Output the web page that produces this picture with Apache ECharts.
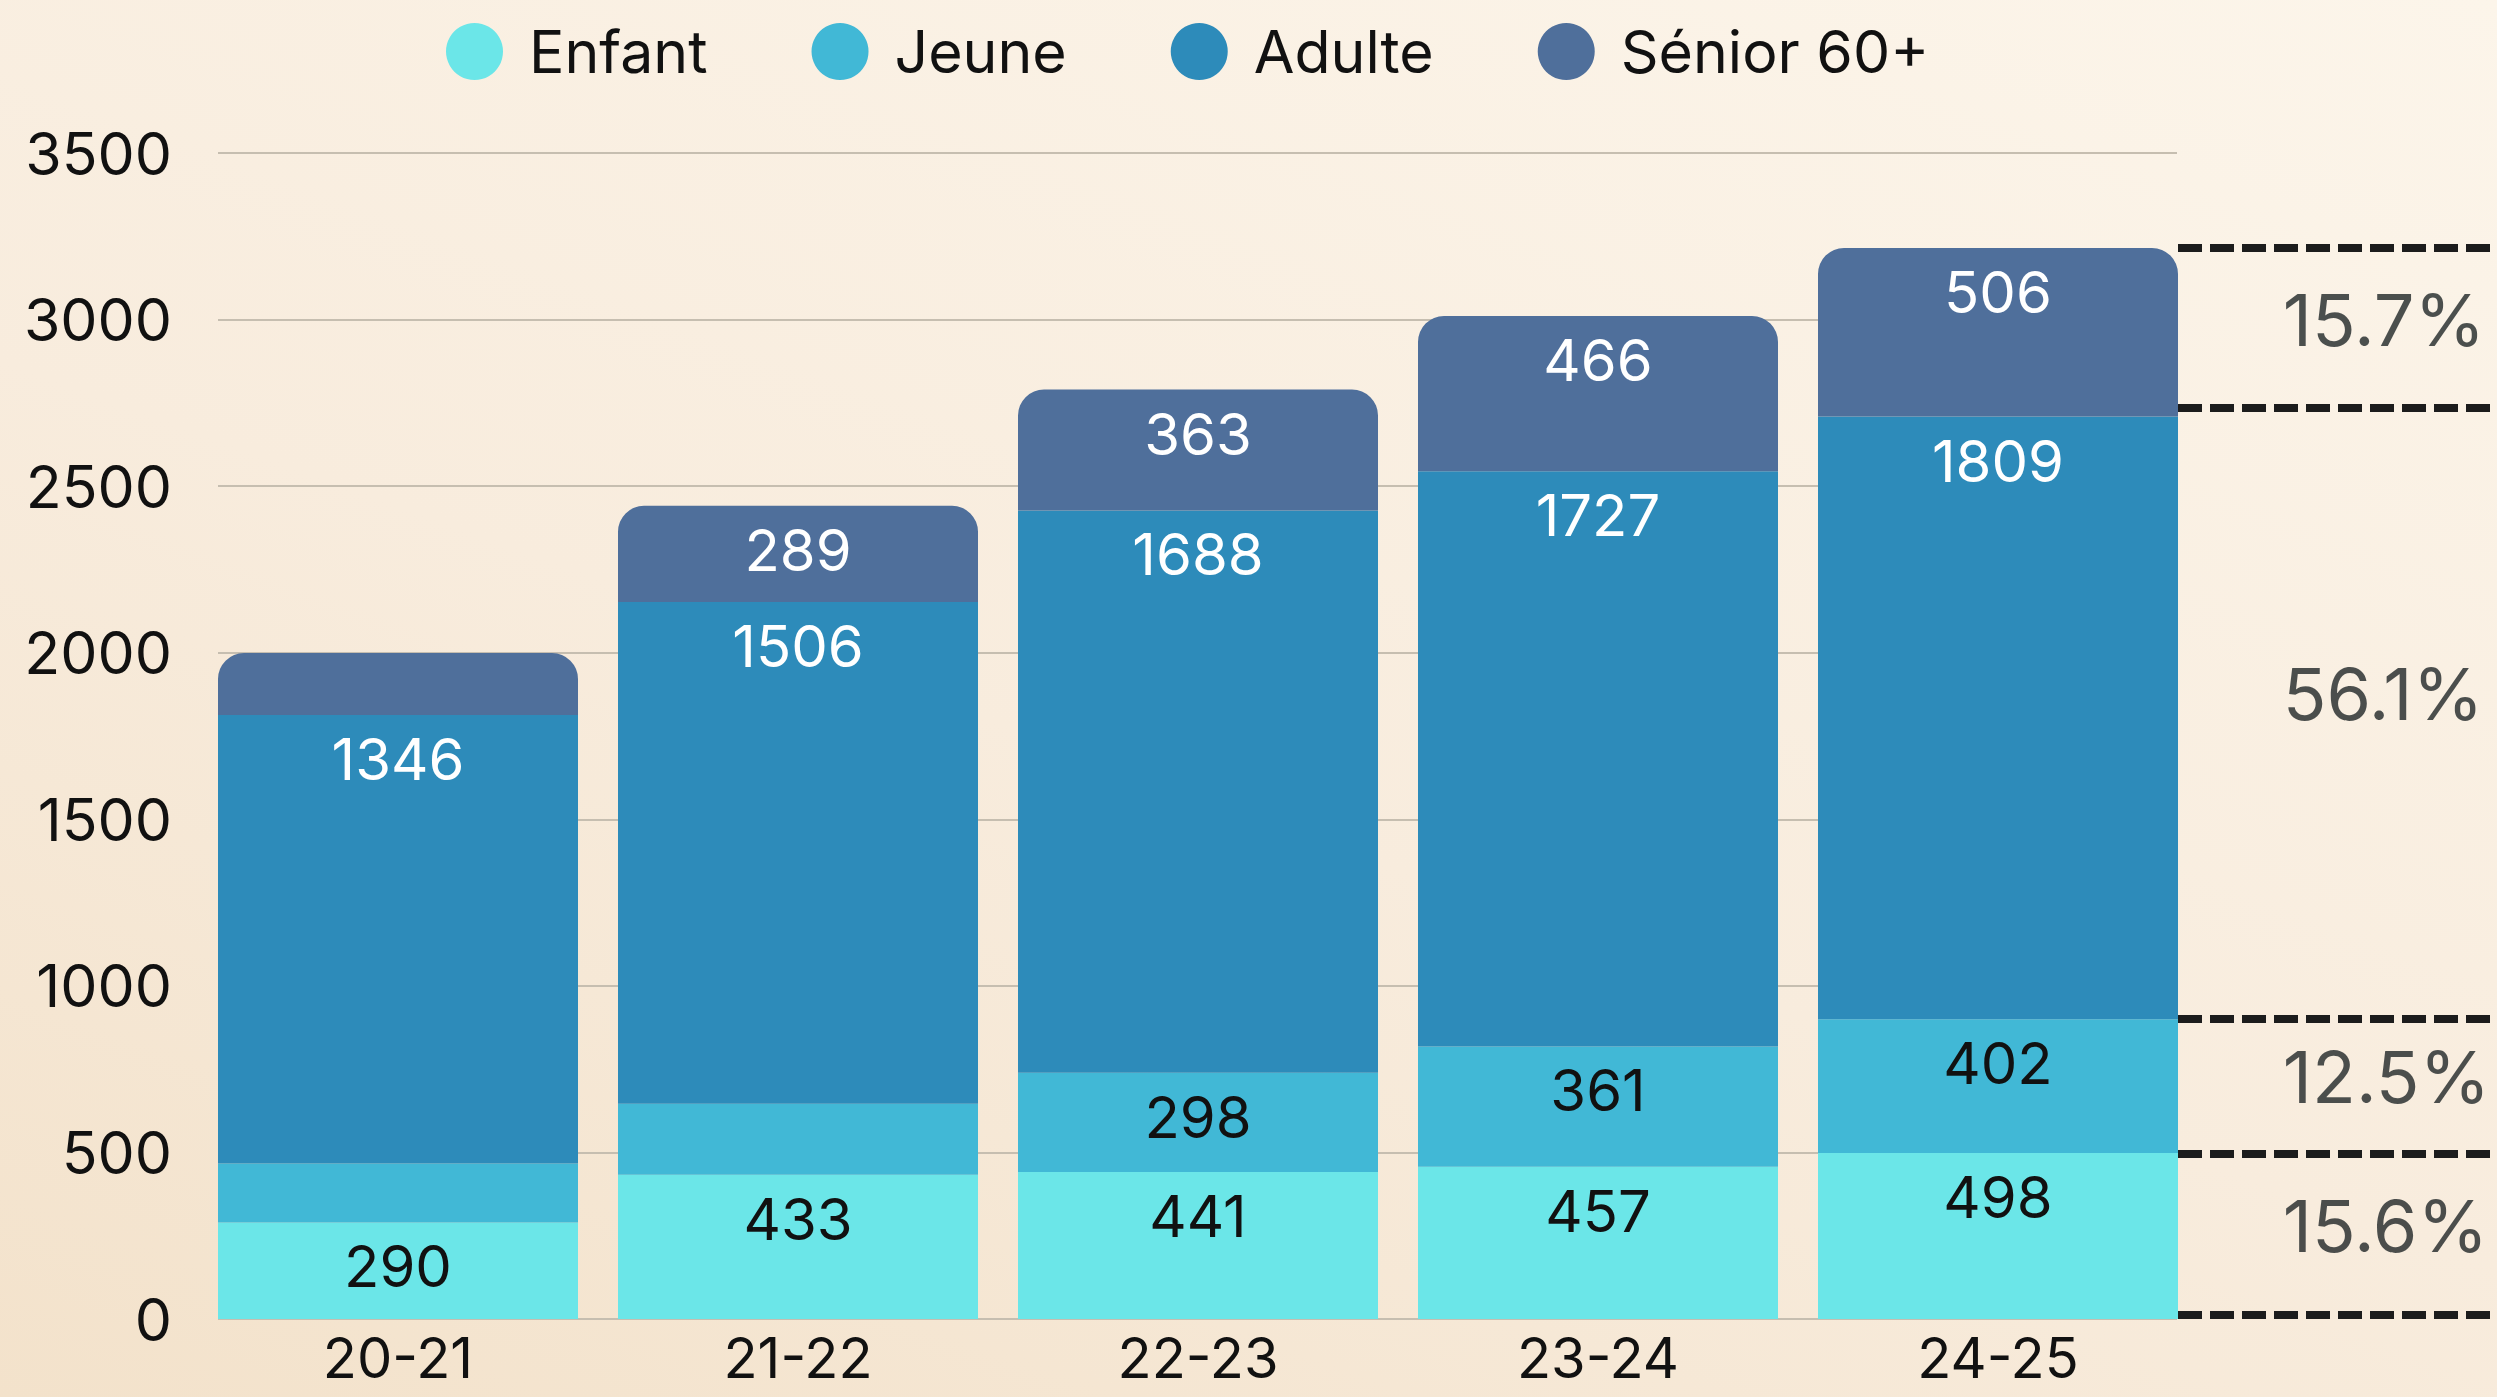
<!DOCTYPE html>
<html>
<head>
<meta charset="utf-8">
<script src="https://cdn.jsdelivr.net/npm/echarts@6/dist/echarts.min.js"></script>
<style>
html,body{margin:0;padding:0;overflow:hidden;}
#c{width:2497px;height:1397px;background:linear-gradient(20deg,#f3e2cb 0%,#f8ecdd 45%,#fcf5ea 100%);}
</style>
</head>
<body>
<div id="c"></div>
<script>
// ---- data ----
const categories = ['20-21', '21-22', '22-23', '23-24', '24-25'];
const enfant = [290, 433, 441, 457, 498];
const jeune  = [177, 213, 298, 361, 402];
const adulte = [1346, 1506, 1688, 1727, 1809];
const senior = [186, 289, 363, 466, 506];
const seriesNames = ['Enfant', 'Jeune', 'Adulte', 'Sénior 60+'];
const yTicks = [0, 500, 1000, 1500, 2000, 2500, 3000, 3500];
// right-hand share markers (value levels of dashed lines)
const dividerLevels = [13, 497, 900, 2735, 3215];
const pctLabels = ['15.6%', '12.5%', '56.1%', '15.7%'];
const pctLabelLevels = [280, 727, 1879, 3001];

const colors = ['#6be6e8', '#41b8d6', '#2d8bba', '#4f6f9b'];
const labelColors = ['#111111', '#111111', '#ffffff', '#ffffff'];
const FONT = 'Inter, "Noto Sans", sans-serif';
const minLabel = 250;

const chart = echarts.init(document.getElementById('c'), null, {renderer: 'svg'});

const allSeries = [enfant, jeune, adulte, senior];
const barSeries = allSeries.map((arr, i) => ({
  name: seriesNames[i],
  type: 'bar',
  stack: 'total',
  xAxisIndex: 1,
  yAxisIndex: 1,
  barWidth: '90%',
  itemStyle: {color: colors[i], borderRadius: i === 3 ? [26, 26, 0, 0] : 0},
  label: {
    show: true,
    position: 'insideTop',
    distance: 15,
    color: labelColors[i],
    fontFamily: FONT,
    fontSize: 58,
    formatter: p => String(p.value)
  },
  data: arr.map(v => ({value: v, label: {show: v >= minLabel}})),
  emphasis: {disabled: true},
  animation: false
}));

const option = {
  animation: false,
  textStyle: {fontFamily: FONT},
  legend: {
    data: seriesNames,
    top: 17,
    left: 441,
    icon: 'circle',
    itemWidth: 57,
    itemHeight: 57,
    itemGap: 104,
    textStyle: {fontFamily: FONT, fontSize: 59, color: '#111111', padding: [0, 0, 0, 21]}
  },
  grid: [
    {left: 218, top: 153, width: 1959, height: 1166},
    {left: 198, top: 153, width: 2000, height: 1166},
    {left: 2178, top: 153, width: 312, height: 1166}
  ],
  xAxis: [
    {gridIndex: 0, type: 'value', show: false, min: 0, max: 1},
    {gridIndex: 1, type: 'category', data: categories,
      axisLine: {show: false}, axisTick: {show: false},
      axisLabel: {fontFamily: FONT, fontSize: 56, lineHeight: 42, color: '#111111', margin: 18}},
    {gridIndex: 2, type: 'value', show: false, min: 0, max: 1}
  ],
  yAxis: [
    {gridIndex: 0, type: 'value', min: yTicks[0], max: yTicks[yTicks.length - 1], interval: 500,
      axisLine: {show: false}, axisTick: {show: false},
      splitLine: {show: true, lineStyle: {color: '#c6beb0', width: 2}},
      axisLabel: {fontFamily: FONT, fontSize: 59, color: '#111111', margin: 46,
        formatter: v => String(v)}},
    {gridIndex: 1, type: 'value', show: false, min: 0, max: 3500, splitLine: {show: false}},
    {gridIndex: 2, type: 'value', show: false, min: 0, max: 3500, splitLine: {show: false}}
  ],
  series: [
    ...barSeries,
    {
      type: 'scatter',
      xAxisIndex: 2,
      yAxisIndex: 2,
      symbolSize: 0,
      silent: true,
      data: pctLabels.map((t, i) => ({value: [0.336, pctLabelLevels[i]], name: t})),
      label: {
        show: true,
        position: 'right',
        distance: 0,
        formatter: p => p.name,
        fontFamily: FONT,
        fontSize: 72,
        color: '#1f2527'
      },
      markLine: {
        silent: true,
        symbol: 'none',
        label: {show: false},
        lineStyle: {color: '#1c1c1c', width: 8, type: [24, 8]},
        data: dividerLevels.map(v => ({yAxis: v}))
      }
    }
  ]
};
chart.setOption(option);
</script>
</body>
</html>
